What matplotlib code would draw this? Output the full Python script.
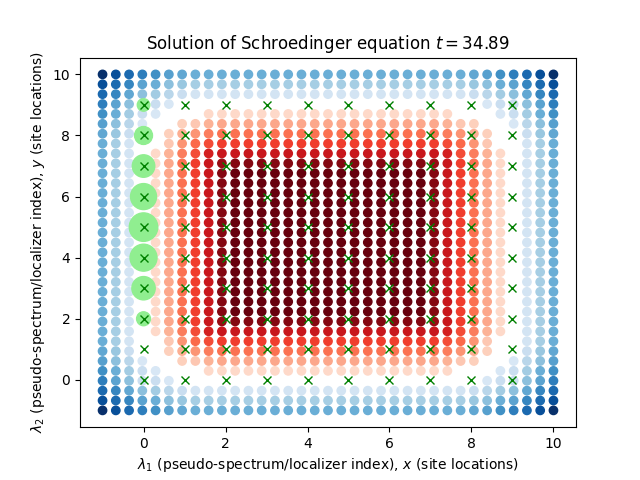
import numpy as np
import matplotlib
matplotlib.use('Agg')
import matplotlib.pyplot as plt

# grid of the pseudo-spectrum, 35 x 35
lambda_1 = np.linspace(-1, 10, 35)
lambda_2 = np.linspace(10, -1, 35)

# percent values: negative = Blues, positive = Reds, 0 = no dot
r0 = [-100, -88, -78, -70, -63, -56, -53] + [-50]*21 + [-53, -56, -63, -70, -78, -88, -100]
r1 = [-88, -77, -67, -55, -50, -42, -39] + [-35]*21 + [-39, -42, -50, -55, -67, -77, -88]
r2 = [-78, -67, -53, -42, -36, -29, -23] + [-18]*21 + [-23, -29, -36, -42, -53, -67, -78]
r3 = [-70, -55, -42, -23, -23, -16] + [0]*23 + [-16, -23, -23, -42, -55, -70]
r4 = [-63, -50, -36, -23, -16, 0, 0, 0] + [15]*19 + [0, 0, 0, -16, -23, -36, -50, -63]
r5 = [-56, -42, -29, -16, 0, 0, 18, 21, 28] + [31]*17 + [28, 21, 18, 0, 0, -16, -29, -42, -56]
r6 = [-53, -39, -23, 0, 0, 18, 29, 37, 44] + [48]*17 + [44, 37, 29, 18, 0, 0, -23, -39, -53]
r7 = [-50, -35, -18, 0, 0, 21, 37, 50, 58] + [62]*17 + [58, 50, 37, 21, 0, 0, -18, -35, -50]
r8 = [-50, -35, -18, 0, 15, 28, 44, 58, 72] + [76]*17 + [72, 58, 44, 28, 15, 0, -18, -35, -50]
r9 = [-50, -35, -18, 0, 15, 31, 48, 62, 76, 90] + [94]*15 + [90, 76, 62, 48, 31, 15, 0, -18, -35, -50]
mid = [-50, -35, -18, 0, 15, 31, 48, 62, 76, 94] + [100]*15 + [94, 76, 62, 48, 31, 15, 0, -18, -35, -50]

levels = [r0, r1, r2, r3, r4, r5, r6, r7, r8, r9] + [mid]*15 + [r9, r8, r7, r6, r5, r4, r3, r2, r1, r0]
levels = np.array(levels)

# sites and the weight on them
site_x = [0, 1, 2, 3, 4, 5, 6, 7, 8, 9]
site_y = [0, 1, 2, 3, 4, 5, 6, 7, 8, 9]
weight_y = [9, 8, 7, 6, 5, 4, 3, 2]
weight_s = [81, 166, 262, 350, 420, 376, 282, 100]

X, Y = np.meshgrid(lambda_1, lambda_2)
blue = levels < 0
red = levels > 0

plt.figure()
plt.scatter(X[blue], Y[blue], c=-levels[blue]/100, cmap='Blues', vmin=0, vmax=1)
plt.scatter(X[red], Y[red], c=levels[red]/100, cmap='Reds', vmin=0, vmax=1)
plt.scatter([0]*len(weight_y), weight_y, s=weight_s, color='lightgreen')

sx, sy = np.meshgrid(site_x, site_y)
plt.plot(sx.ravel(), sy.ravel(), 'x', color='green')

plt.title(r'Solution of Schroedinger equation $t = 34.89$')
plt.xlabel(r'$\lambda_1$ (pseudo-spectrum/localizer index), $x$ (site locations)')
plt.ylabel(r'$\lambda_2$ (pseudo-spectrum/localizer index), $y$ (site locations)')
plt.savefig('out.png', dpi=100)
